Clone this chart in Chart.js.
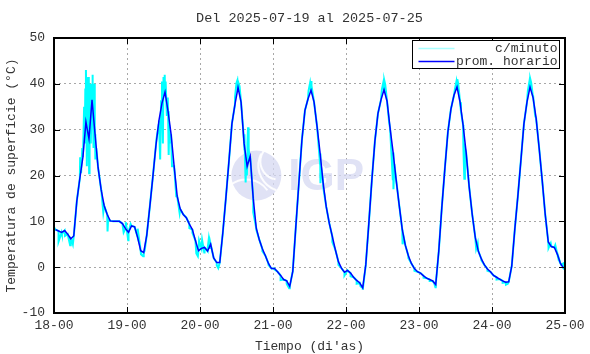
<!DOCTYPE html>
<html>
<head>
<meta charset="utf-8">
<script src="https://cdn.jsdelivr.net/npm/chart.js@4"></script>
<style>
  html, body { margin: 0; padding: 0; background: #fff; }
  #wrap { width: 590px; height: 354px; }
</style>
</head>
<body>
<div id="wrap"><canvas id="tempChart" width="590" height="354"></canvas></div>
<script>
// tick labels
const xTickLabels = ['18-00', '19-00', '20-00', '21-00', '22-00', '23-00', '24-00', '25-00'];
const yMin = -10, yMax = 50, yStep = 10;
const chartTitle = 'Del 2025-07-19 al 2025-07-25';

// promedio horario, one value per hour (00..23) for each day
const prom18 = [8.2, 7.9, 7.6, 8.0, 7.2, 6.2, 6.8, 14.4, 19.4, 24.0, 31.7, 28.0, 36.5, 29.0, 21.7, 16.9, 13.4, 11.5, 10.1, 10.0, 10.0, 10.0, 9.5, 8.4];
const prom19 = [7.6, 9.0, 8.8, 6.5, 3.6, 3.2, 7.0, 13.2, 19.7, 26.5, 32.0, 35.8, 38.2, 34.0, 29.0, 22.0, 15.5, 12.7, 11.5, 10.8, 9.4, 8.2, 5.8, 3.6];
const prom20 = [4.1, 4.3, 3.5, 5.0, 2.0, 1.0, 1.0, 7.5, 15.0, 23.0, 31.3, 35.5, 39.2, 36.0, 27.0, 22.0, 24.2, 15.0, 8.5, 6.0, 4.0, 2.5, 0.8, -0.3];
const prom21 = [-0.3, -1.0, -1.8, -2.7, -3.0, -4.2, -0.9, 8.8, 18.3, 27.7, 34.2, 36.7, 38.6, 36.0, 30.6, 24.8, 18.3, 13.2, 9.6, 6.7, 3.8, 1.2, -0.2, -1.1];
const prom22 = [-0.7, -1.3, -2.2, -2.9, -3.4, -4.5, 0.5, 9.5, 19.0, 27.5, 33.5, 36.5, 38.7, 36.2, 30.3, 25.0, 19.0, 13.5, 8.2, 4.8, 2.5, 0.8, -0.3, -1.0];
const prom23 = [-1.3, -1.9, -2.4, -2.7, -3.0, -3.8, 3.5, 13.0, 21.5, 29.5, 34.5, 37.5, 39.3, 36.0, 31.0, 25.0, 17.5, 11.5, 6.5, 3.5, 1.8, 0.5, -0.4, -1.0];
const prom24 = [-1.8, -2.2, -2.6, -3.0, -3.3, -3.2, 0.3, 8.3, 15.5, 23.3, 31.3, 36.0, 39.3, 37.0, 32.5, 26.0, 19.0, 11.5, 5.5, 4.5, 4.3, 2.8, 0.8, -0.2];

// lecturas c/minuto visibles fuera del promedio: [hora del dia, valor]
const min18 = [[0, 8.7], [1.5, 5.6], [2.6, 7.3], [3.6, 6.8], [5.3, 4.8], [5.8, 5.9], [6.2, 5.0], [8.6, 24], [8.9, 20.5], [9.3, 26], [9.7, 29], [9.9, 35], [10.1, 27], [10.3, 39], [10.5, 43], [10.7, 30], [10.8, 22], [11.0, 36], [11.2, 41.5], [11.4, 25], [11.55, 20.5], [11.7, 32], [11.9, 40], [12.1, 27], [12.3, 34], [12.6, 42], [12.8, 38], [13.0, 26], [13.2, 40], [13.4, 28], [13.6, 23.5], [13.9, 26], [15.6, 16.5], [16.2, 12.0], [17.6, 7.8], [17.8, 10.5], [22.9, 7.6], [23.6, 9.8]];
const min19 = [[0.4, 5.9], [1.2, 9.4], [3.5, 8.4], [4.6, 2.8], [5.3, 2.4], [5.8, 3.6], [9.7, 28], [10.4, 31], [10.9, 23.5], [11.2, 36], [11.5, 40.5], [11.8, 27], [12.0, 41.5], [12.2, 38], [12.4, 42], [12.6, 37.5], [12.8, 40.5], [13.1, 33], [13.4, 37], [13.7, 24.5], [13.9, 31], [14.3, 27], [14.8, 22], [16.2, 15.5], [17.3, 11.8], [20.5, 8.5], [21.5, 7.5], [22.8, 3.0], [23.3, 2.4], [23.7, 5.8]];
const min20 = [[0.7, 5.9], [1.4, 3.2], [2.5, 4.0], [2.9, 6.2], [3.3, 4.2], [5.5, 0.4], [6.0, -0.2], [11.5, 37], [12.0, 40.2], [12.3, 40.8], [12.6, 40.3], [13.0, 39.5], [14.2, 30], [14.5, 25.5], [14.7, 29], [15.0, 18.5], [15.2, 24], [15.4, 20], [15.6, 27], [15.8, 30.5], [16.0, 26], [16.3, 23], [17.5, 12], [18.5, 8.2], [20.5, 3.5], [22.5, 0.5]];
const min21 = [[0.5, -0.5], [2.5, -2.8], [4.5, -3.6], [5.3, -4.6], [11.7, 38.5], [12.2, 40.2], [12.5, 40.6], [12.8, 39.6], [13.5, 36], [15.3, 24], [15.6, 18.3], [15.8, 22], [16.5, 17.5], [19.5, 5.5], [21.5, 0.5], [23.5, -1.8]];
const min22 = [[1.5, -2.0], [3.5, -3.6], [4.8, -4.2], [5.5, -4.9], [11.8, 38.8], [12.3, 40.4], [12.6, 40.7], [12.9, 39.8], [14.2, 31.5], [15.0, 24], [15.4, 19], [15.6, 17.0], [15.9, 22.5], [16.4, 19.5], [18.6, 5], [19.0, 6.5], [20.5, 2.0], [22.5, -0.8]];
const min23 = [[1.5, -2.3], [3.5, -3.0], [5.0, -3.5], [5.4, -4.4], [11.8, 38.8], [12.3, 40.5], [12.6, 41], [12.9, 40], [13.8, 34], [14.6, 26], [14.9, 19.3], [15.1, 26], [18.8, 4.0], [19.3, 5.2], [20.5, 1.5], [22.5, -0.8]];
const min24 = [[1.5, -2.7], [3.5, -3.4], [4.6, -3.8], [5.2, -3.6], [11.8, 38.5], [12.3, 40.5], [12.6, 41], [12.9, 40.2], [13.5, 37.5], [14.2, 33], [18.6, 4.2], [19.3, 5.2], [20.8, 4.8], [21.5, 3.0], [22.7, 0.5], [23.4, 0.8], [24, -0.6]];

const promDays = [prom18, prom19, prom20, prom21, prom22, prom23, prom24];
const minDays = [min18, min19, min20, min21, min22, min23, min24];

// hourly means sit at the middle of each hour
const promPoints = [];
promDays.forEach((arr, d) => arr.forEach((v, k) => promPoints.push({ x: d * 24 + k + 0.5, y: v })));

const minPoints = promPoints.map(p => ({ x: p.x, y: p.y }));
minDays.forEach((arr, d) => arr.forEach(p => minPoints.push({ x: d * 24 + p[0], y: p[1] })));
minPoints.sort((a, b) => a.x - b.x);

const FONT = "'Liberation Mono', 'DejaVu Sans Mono', monospace";
const TXT = '#333';

const framePlugin = {
  id: 'frame',
  beforeDatasetsDraw(chart) {
    // IGP watermark
    const ctx = chart.ctx;
    const a = chart.chartArea;
    const cx = a.left + (a.right - a.left) * 0.396;
    const cy = a.top + (a.bottom - a.top) * 0.5;
    ctx.save();
    ctx.fillStyle = 'rgba(214, 216, 242, 0.75)';
    ctx.beginPath();
    ctx.arc(cx, cy, 25, 0, Math.PI * 2);
    ctx.fill();
    ctx.strokeStyle = 'rgba(255,255,255,0.9)';
    ctx.lineWidth = 2;
    ctx.beginPath(); ctx.arc(cx + 22, cy - 14, 18, Math.PI * 0.55, Math.PI * 1.2); ctx.stroke();
    ctx.beginPath(); ctx.arc(cx + 28, cy - 10, 26, Math.PI * 0.6, Math.PI * 1.15); ctx.stroke();
    ctx.beginPath(); ctx.arc(cx - 10, cy + 30, 26, Math.PI * 1.3, Math.PI * 1.8); ctx.stroke();
    ctx.fillStyle = 'rgba(214, 216, 242, 0.75)';
    ctx.font = "bold 44px 'Liberation Sans', Arial, sans-serif";
    ctx.textBaseline = 'middle';
    ctx.fillText('IGP', cx + 32, cy + 2);
    ctx.restore();
  },
  afterDraw(chart) {
    const ctx = chart.ctx;
    const a = chart.chartArea;
    const xs = chart.scales.x, ys = chart.scales.y;
    ctx.save();

    // title, centred over the plot frame
    ctx.font = '13.5px ' + FONT;
    ctx.fillStyle = TXT;
    ctx.textAlign = 'center';
    ctx.textBaseline = 'middle';
    ctx.fillText(chartTitle, (a.left + a.right) / 2, 18);

    ctx.strokeStyle = '#000';
    ctx.lineWidth = 1;
    // inward ticks on all four sides
    xTickLabels.forEach((lab, i) => {
      const px = Math.round(xs.getPixelForValue(i * 24)) + 0.5;
      ctx.beginPath();
      ctx.moveTo(px, a.bottom); ctx.lineTo(px, a.bottom - 6);
      ctx.moveTo(px, a.top); ctx.lineTo(px, a.top + 6);
      ctx.stroke();
    });
    for (let v = yMin; v <= yMax; v += yStep) {
      const py = Math.round(ys.getPixelForValue(v)) + 0.5;
      ctx.beginPath();
      ctx.moveTo(a.left, py); ctx.lineTo(a.left + 6, py);
      ctx.moveTo(a.right, py); ctx.lineTo(a.right - 6, py);
      ctx.stroke();
    }
    // border
    ctx.lineWidth = 2;
    ctx.strokeRect(a.left, a.top, a.right - a.left, a.bottom - a.top);

    // legend box, top right
    const bw = 147, bh = 28;
    const bx = Math.round(a.right - 6 - bw) + 0.5, by = Math.round(a.top + 2) + 0.5;
    ctx.fillStyle = '#fff';
    ctx.fillRect(bx, by, bw, bh);
    ctx.lineWidth = 1;
    ctx.strokeStyle = '#000';
    ctx.strokeRect(bx, by, bw, bh);
    ctx.font = '13px ' + FONT;
    ctx.textAlign = 'right';
    ctx.textBaseline = 'middle';
    chart.data.datasets.forEach((ds, i) => {
      const ly = by + 8 + i * 13;
      ctx.strokeStyle = ds.legendColor;
      ctx.lineWidth = 1.3;
      ctx.beginPath();
      ctx.moveTo(bx + 6, ly); ctx.lineTo(bx + 42, ly);
      ctx.stroke();
      ctx.fillStyle = TXT;
      ctx.fillText(ds.label, bx + bw - 2, ly);
    });
    ctx.restore();
  }
};

new Chart(document.getElementById('tempChart'), {
  type: 'line',
  data: {
    datasets: [
      {
        label: 'c/minuto',
        data: minPoints,
        order: 2,
        borderColor: '#00ffff',
        legendColor: '#a8ffff',
        borderWidth: 2,
        pointRadius: 0,
        tension: 0,
        fill: false
      },
      {
        label: 'prom. horario',
        data: promPoints,
        order: 1,
        borderColor: '#0000ff',
        legendColor: '#0000ff',
        borderWidth: 1.5,
        pointRadius: 0,
        tension: 0,
        fill: false
      }
    ]
  },
  options: {
    responsive: false,
    animation: false,
    events: [],
    layout: { padding: { left: 0, right: 25, top: 38, bottom: 0 } },
    plugins: {
      legend: { display: false },
      tooltip: { enabled: false },
      title: { display: false }
    },
    scales: {
      x: {
        type: 'linear',
        min: 0,
        max: 168,
        afterFit(scale) { scale.height = 41; },
        afterBuildTicks(scale) {
          scale.ticks = xTickLabels.map((lab, i) => ({ value: i * 24 }));
        },
        ticks: {
          color: TXT,
          font: { family: FONT, size: 13 },
          padding: 5,
          maxRotation: 0,
          autoSkip: false,
          callback: (v, i) => xTickLabels[i]
        },
        grid: { color: '#a8a8a8', lineWidth: 1, drawTicks: false },
        border: { display: false, dash: [2, 3] },
        title: {
          display: true,
          text: "Tiempo (di'as)",
          color: TXT,
          font: { family: FONT, size: 13 },
          padding: { top: 0, bottom: 0 }
        }
      },
      y: {
        min: yMin,
        max: yMax,
        afterFit(scale) { scale.width = 54; },
        ticks: {
          stepSize: yStep,
          color: TXT,
          font: { family: FONT, size: 13 },
          padding: 9
        },
        grid: { color: '#a8a8a8', lineWidth: 1, drawTicks: false },
        border: { display: false, dash: [2, 3] },
        title: {
          display: true,
          text: 'Temperatura de superficie (°C)',
          color: TXT,
          font: { family: FONT, size: 13 },
          padding: { top: 4, bottom: 4 }
        }
      }
    }
  },
  plugins: [framePlugin]
});
</script>
</body>
</html>
